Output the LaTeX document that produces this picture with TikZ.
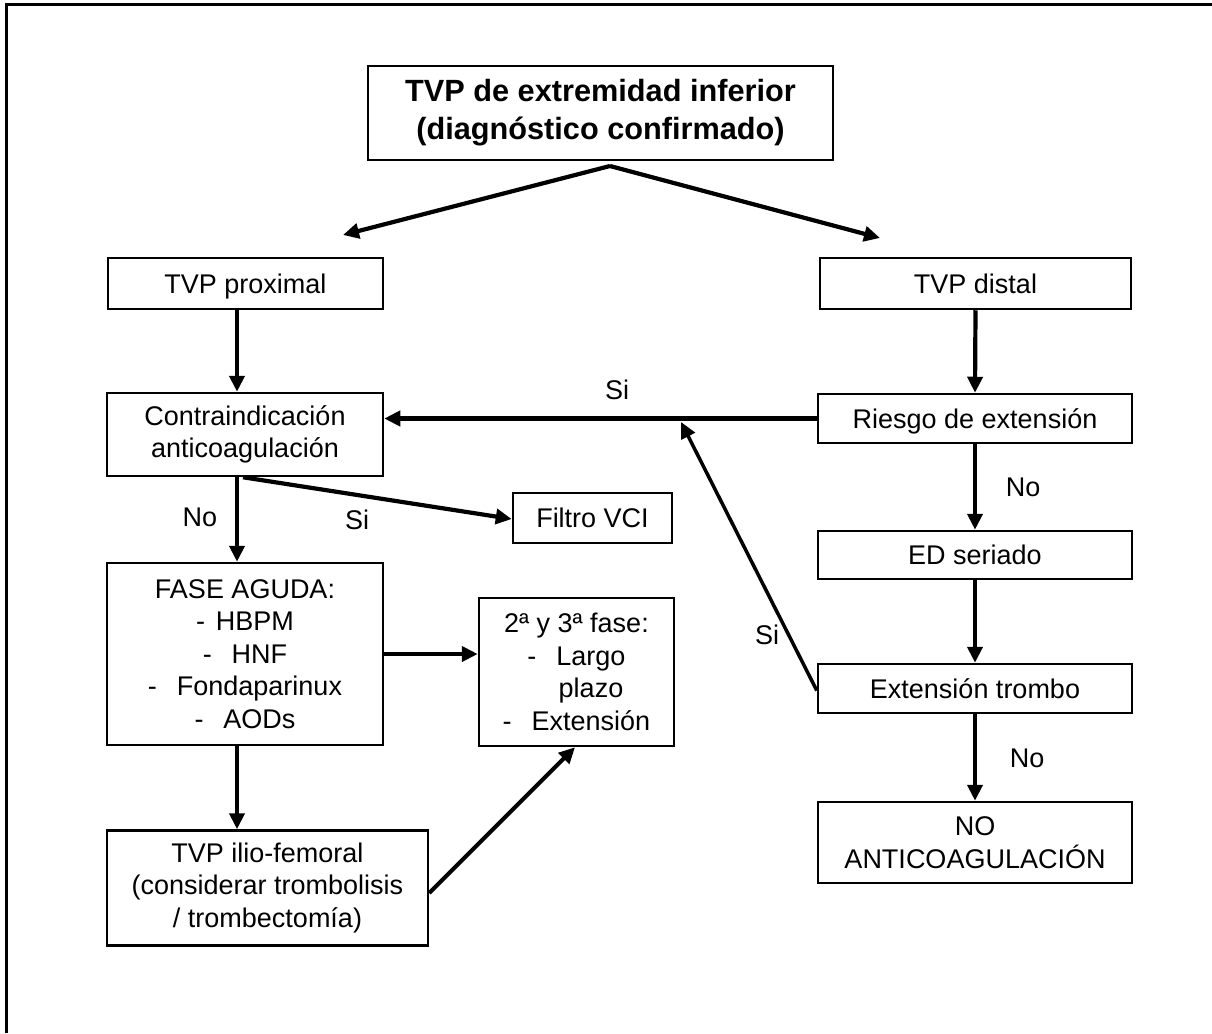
\documentclass[tikz,border=0pt]{standalone}
\usepackage{fontspec}
\setmainfont{Liberation Sans}
\usetikzlibrary{arrows.meta}
\begin{document}
\begin{tikzpicture}[x=1pt,y=-1pt,
  box/.style={draw, line width=2.5pt, inner sep=0pt, align=center,
    font=\fontsize{27}{32.5}\selectfont},
  oneline/.style={text height=19.4pt, text depth=0pt},
  arr/.style={line width=4.2pt, -{Triangle[length=16pt,width=15pt]}},
  lbl/.style={inner sep=0pt, font=\fontsize{27}{32.5}\selectfont}]
\useasboundingbox (0,0) rectangle (1212,1033);
% page frame (top and left rules)
\draw[line width=3pt] (6,1033) -- (6,5) -- (1212,5);

% boxes
\node[box, minimum width=465pt, minimum height=94pt,
  font=\bfseries\fontsize{30.7}{38}\selectfont] (title) at (600.5,113)
  {TVP de extremidad inferior\\(diagnóstico confirmado)};
\node[box, oneline, minimum width=275pt, minimum height=51pt] (prox) at (245.5,283.5) {TVP proximal};
\node[box, oneline, minimum width=311pt, minimum height=51pt] (dist) at (975.5,283.5) {TVP distal};
\node[box, minimum width=276pt, minimum height=83pt] (contra) at (245,434.5)
  {Contraindicación\\anticoagulación};
\node[box, oneline, minimum width=314pt, minimum height=49pt] (riesgo) at (975,418.5) {Riesgo de extensión};
\node[box, oneline, minimum width=159pt, minimum height=50pt] (filtro) at (592.5,518) {Filtro VCI};
\node[box, minimum width=276pt, minimum height=182pt] (fase) at (245,654)
  {FASE AGUDA:\\-\hspace{11pt}HBPM\\-\hspace{20pt}HNF\\-\hspace{20pt}Fondaparinux\\-\hspace{20pt}AODs};
\node[box, minimum width=195pt, minimum height=148pt] (fase2) at (576.5,672)
  {2ª y 3ª fase:\\-\hspace{20pt}Largo\\\hspace*{29pt}plazo\\-\hspace{20pt}Extensión};
\node[box, minimum width=321pt, minimum height=115pt] (ilio) at (267.5,888)
  {TVP ilio-femoral\\(considerar trombolisis\\/ trombectomía)};
\node[box, oneline, minimum width=314pt, minimum height=48pt] (ed) at (975,555) {ED seriado};
\node[box, oneline, minimum width=314pt, minimum height=49pt] (ext) at (975,688.5) {Extensión trombo};
\node[box, minimum width=314pt, minimum height=81pt] (noac) at (975,842.5)
  {NO\\ANTICOAGULACIÓN};

% split below the title
\coordinate (split) at (610,166);
\coordinate (ltip) at (343,235);
\coordinate (rtip) at (880,238);
\draw[arr] (split) -- (ltip);
\draw[arr] (split) -- (rtip);

% left column
\draw[arr] ([xshift=-8.5pt]prox.south) -- ([xshift=-8pt]contra.north);
\draw[arr] ([xshift=-8pt]contra.south) -- ([xshift=-8pt]fase.north);
\draw[arr] ([xshift=-2pt]contra.south) -- ([yshift=-1pt]filtro.west);
\draw[arr] (fase.east) -- (fase.east -| fase2.west);
\draw[arr] ([xshift=-8pt]fase.south) -- ([xshift=-30.5pt]ilio.north);
\draw[arr] ([yshift=-5pt]ilio.east) -- ([xshift=-1.5pt]fase2.south);

% right column
\draw[arr] (dist.south) -- (riesgo.north);
\draw[arr] (riesgo.west) -- (riesgo.west -| contra.east);
\draw[arr] (riesgo.south) -- (ed.north);
\draw[arr] (ed.south) -- (ext.north);
\draw[arr] (ext.south) -- (noac.north);
\coordinate (join) at (681,422);
\draw[arr, line width=3.5pt] ([yshift=-2pt]ext.west) -- (join);

% branch labels
\node[lbl] (l1) at (617,390) {Si};
\node[lbl] (l2) at (200,517) {No};
\node[lbl] (l3) at (357,520) {Si};
\node[lbl] (l4) at (767,635) {Si};
\node[lbl] (l5) at (1023,487) {No};
\node[lbl] (l6) at (1027,758) {No};
\end{tikzpicture}
\end{document}
